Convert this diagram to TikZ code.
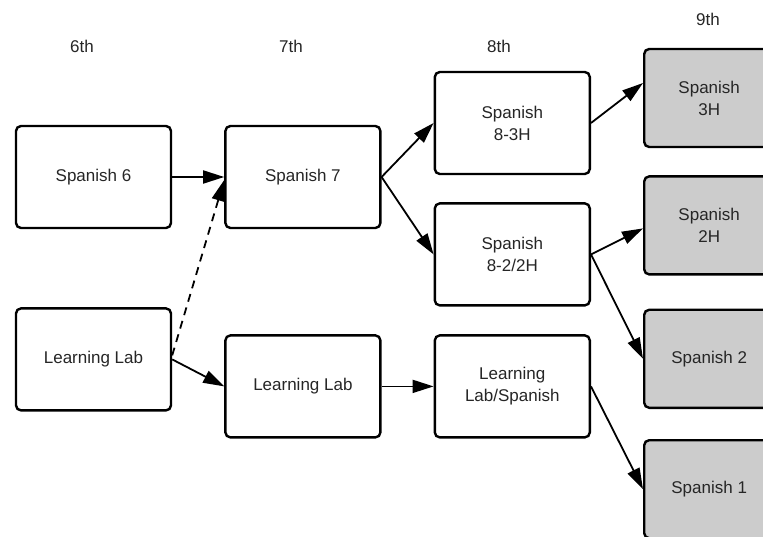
\documentclass[tikz,border=0pt]{standalone}
\usepackage{fontspec}
\setmainfont{Liberation Sans}
\usetikzlibrary{positioning,arrows.meta}

\begin{document}
\begin{tikzpicture}[x=1pt, y=-1pt, node distance={52pt},
      >={Triangle[length=21pt,width=13pt]},
      course/.style = {draw, line width=2.4pt, rounded corners=5pt, minimum width=155pt, minimum height=102pt, inner sep=0pt, align=center, text=black!85, font=\fontsize{17}{22}\selectfont},
      nine/.style = {course, fill=black!20, minimum width=130pt, minimum height=98pt},
      grade/.style = {text=black!85, font=\fontsize{17}{20}\selectfont},
      link/.style = {->, line width=1.8pt}]
      \clip (0,0) rectangle (763,537);
      \fill[white] (0,0) rectangle (763,537);
      %% grade headings
      \node[grade] (g6) at (82,46) {6th};
      \node[grade] (g7) at (291,46) {7th};
      \node[grade] (g8) at (499,46) {8th};
      \node[grade] (g9) at (708,19) {9th};
      %% courses
      \node[course] (sp6) at (93.5,177) {Spanish 6};
      \node[course] (ll6) [below=78pt of sp6] {Learning Lab};
      \node[course] (sp7) [right=of sp6] {Spanish 7};
      \node[course] (ll7) [below=105pt of sp7] {Learning Lab};
      \node[course] (sp83) [right=of sp7, yshift=54pt] {Spanish\\8-3H};
      \node[course] (sp822) [below=27pt of sp83] {Spanish\\8-2/2H};
      \node[course] (lls) [right=of ll7] {Learning\\Lab/Spanish};
      %% 9th grade, grey
      \node[nine] (sp3h) [right=of sp83, yshift=25pt] {Spanish\\3H};
      \node[nine] (sp2h) [below=27pt of sp3h] {Spanish\\2H};
      \node[nine] (sp2) [below=33pt of sp2h] {Spanish 2};
      \node[nine] (sp1) [below=30pt of sp2] {Spanish 1};
      \draw[link] (sp6) to (sp7);
      \draw[link, dash pattern=on 8pt off 6pt] ([yshift=4pt]ll6.east) to ([yshift=-3pt]sp7.west);
      \draw[link] (ll6.east) to (ll7.west);
      \draw[link] (sp7.east) to (sp83.west);
      \draw[link] (sp7.east) to (sp822.west);
      \draw[link] (ll7) to (lls);
      \draw[link] (sp83.east) to ([yshift=15pt]sp3h.west);
      \draw[link] (sp822.east) to ([yshift=-3pt]sp2h.west);
      \draw[link] (sp822.east) to (sp2.west);
      \draw[link] (lls.east) to (sp1.west);
      \end{tikzpicture}
\end{document}
